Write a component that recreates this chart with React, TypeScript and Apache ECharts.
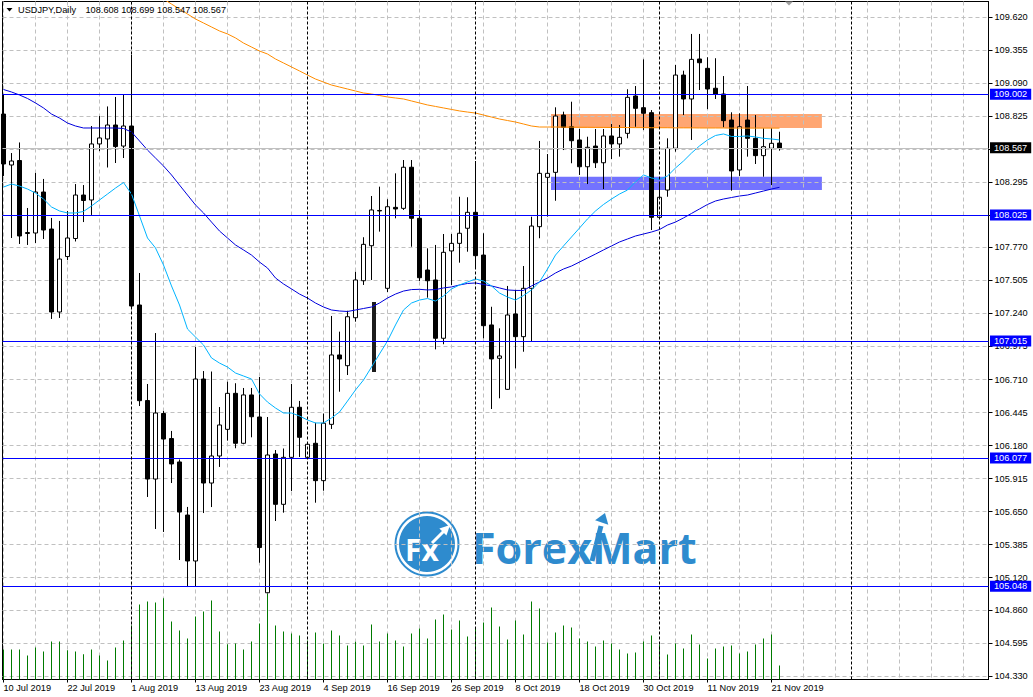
import React, { useEffect, useRef } from 'react';
import * as echarts from 'echarts';

// ---------- DATA ----------
const SYMBOL_TITLE = 'USDJPY,Daily';
const TITLE_OHLC = '108.608 108.699 108.547 108.567';

const DATE_BARS = [0, 8, 16, 24, 32, 40, 48, 56, 64, 72, 80, 88, 96];
const DATE_LABELS = ['10 Jul 2019', '22 Jul 2019', '1 Aug 2019', '13 Aug 2019', '23 Aug 2019', '4 Sep 2019', '16 Sep 2019', '26 Sep 2019', '8 Oct 2019', '18 Oct 2019', '30 Oct 2019', '11 Nov 2019', '21 Nov 2019'];
const GRID_BARS = [0, 4, 8, 12, 16, 20, 24, 28, 32, 36, 40, 44, 48, 52, 56, 60, 64, 68, 72, 76, 80, 84, 88, 92, 96, 100, 104, 108, 112, 116, 120];
const MONTH_START_BARS = [16, 38, 59, 82, 106];

const PRICE_TICKS = [104.330, 104.595, 104.860, 105.120, 105.385, 105.650, 105.915, 106.180, 106.445, 106.710, 106.975, 107.240, 107.505, 107.770, 108.030, 108.295, 108.560, 108.825, 109.090, 109.355, 109.620];

const OPEN = [108.841, 108.432, 108.468, 107.882, 107.886, 108.215, 107.918, 107.252, 107.697, 107.842, 108.191, 108.151, 108.601, 108.641, 108.753, 108.584, 108.745, 107.308, 106.541, 105.911, 106.437, 106.236, 106.048, 105.622, 105.253, 106.714, 105.879, 106.096, 106.310, 106.599, 106.198, 106.586, 106.409, 104.998, 106.112, 105.708, 106.085, 106.487, 106.085, 106.198, 105.898, 106.350, 106.907, 106.821, 107.206, 107.503, 107.784, 108.067, 107.442, 108.092, 108.084, 108.414, 108.004, 107.589, 107.509, 107.041, 107.742, 107.803, 107.924, 108.052, 107.709, 107.148, 106.880, 106.631, 107.236, 107.054, 107.442, 107.937, 108.333, 108.373, 108.833, 108.739, 108.633, 108.418, 108.584, 108.450, 108.665, 108.601, 108.686, 108.986, 108.892, 108.852, 108.012, 108.231, 108.566, 109.154, 108.962, 109.283, 109.208, 109.048, 109.002, 108.793, 108.392, 108.793, 108.646, 108.507, 108.566, 108.608];
const CLOSE = [108.440, 108.464, 107.862, 107.890, 108.215, 107.910, 107.252, 107.677, 107.846, 108.191, 108.147, 108.601, 108.649, 108.753, 108.580, 108.745, 107.300, 106.540, 105.911, 106.441, 106.232, 106.032, 105.646, 105.253, 106.714, 105.879, 106.096, 106.345, 106.599, 106.198, 106.586, 106.411, 105.361, 106.104, 105.708, 106.085, 106.487, 106.246, 106.190, 105.898, 106.359, 106.907, 106.875, 107.214, 107.509, 107.795, 108.071, 108.063, 108.097, 108.079, 108.414, 108.004, 107.527, 107.503, 107.041, 107.731, 107.803, 107.884, 108.052, 107.704, 107.142, 106.875, 106.899, 107.228, 107.054, 107.442, 107.942, 108.365, 108.365, 108.825, 108.735, 108.627, 108.418, 108.574, 108.450, 108.665, 108.601, 108.654, 108.975, 108.887, 108.847, 108.012, 108.173, 108.566, 109.154, 108.962, 109.280, 109.253, 109.042, 109.000, 108.788, 108.384, 108.739, 108.646, 108.507, 108.579, 108.606, 108.567];
const LOW = [108.344, 107.846, 107.798, 107.790, 107.806, 107.838, 107.196, 107.204, 107.669, 107.818, 107.974, 108.031, 108.544, 108.412, 108.448, 108.488, 107.292, 106.497, 105.767, 105.510, 105.486, 105.879, 105.261, 105.044, 105.052, 105.638, 105.686, 106.008, 106.219, 106.158, 106.190, 106.246, 105.239, 104.992, 105.574, 105.641, 105.815, 106.088, 106.080, 105.721, 105.817, 106.313, 106.612, 106.746, 107.174, 107.469, 107.509, 107.897, 107.412, 108.004, 108.071, 107.776, 107.501, 107.367, 106.952, 106.993, 107.469, 107.648, 107.736, 107.611, 107.041, 106.473, 106.559, 106.626, 106.800, 106.933, 107.013, 107.844, 108.017, 108.145, 108.552, 108.446, 108.352, 108.279, 108.408, 108.239, 108.480, 108.499, 108.646, 108.739, 108.713, 107.910, 108.007, 108.177, 108.539, 108.833, 108.633, 109.034, 108.881, 108.962, 108.735, 108.226, 108.344, 108.499, 108.440, 108.338, 108.271, 108.547];
const HIGH = [108.994, 108.528, 108.613, 108.087, 108.368, 108.320, 108.007, 107.983, 108.063, 108.279, 108.271, 108.745, 108.825, 108.902, 108.978, 108.994, 109.315, 107.565, 106.674, 107.083, 106.457, 106.297, 106.068, 105.687, 106.971, 106.778, 106.774, 106.489, 106.692, 106.680, 106.642, 106.642, 106.730, 106.409, 106.144, 106.156, 106.674, 106.538, 106.200, 106.363, 106.437, 107.220, 107.094, 107.262, 107.575, 107.852, 108.183, 108.258, 108.157, 108.365, 108.472, 108.472, 108.071, 107.763, 107.790, 107.878, 107.878, 108.177, 108.173, 108.464, 107.884, 107.294, 107.121, 107.461, 107.429, 107.621, 108.017, 108.625, 108.520, 108.895, 108.860, 108.940, 108.721, 108.659, 108.721, 108.721, 108.761, 108.753, 109.040, 109.066, 109.280, 108.873, 108.296, 108.646, 109.235, 109.189, 109.484, 109.484, 109.297, 109.289, 109.146, 108.855, 108.847, 109.066, 108.833, 108.727, 108.727, 108.699];

const VOLUME = [60000, 60000, 60000, 48000, 64000, 56000, 76000, 76000, 58600, 56000, 50600, 60000, 48000, 38000, 64000, 78000, 108000, 150000, 156000, 154000, 162600, 116000, 98000, 82000, 126000, 136000, 158000, 96000, 70600, 72000, 60000, 76000, 112000, 171400, 108000, 96000, 92000, 88000, 78000, 94000, 72000, 98000, 88000, 68000, 75400, 68000, 110000, 76000, 92000, 78000, 66000, 92000, 102000, 82000, 120000, 130000, 100000, 118000, 86000, 104000, 114000, 144000, 106000, 80000, 118000, 90000, 156000, 142000, 74000, 94000, 108000, 104000, 82000, 76000, 66000, 78000, 72000, 60000, 52000, 54000, 76000, 88000, 70000, 50000, 72000, 62000, 90000, 70000, 42000, 62000, 66000, 68000, 52000, 56000, 70000, 82000, 90000, 28000];

// light blue moving average
const MA_FAST = [108.255, 108.279, 108.263, 108.239, 108.207, 108.159, 108.095, 108.063, 108.047, 108.047, 108.059, 108.103, 108.151, 108.199, 108.247, 108.291, 108.199, 108.023, 107.846, 107.766, 107.629, 107.461, 107.308, 107.115, 107.051, 106.987, 106.883, 106.842, 106.810, 106.762, 106.738, 106.714, 106.594, 106.529, 106.481, 106.441, 106.441, 106.417, 106.385, 106.361, 106.361, 106.401, 106.449, 106.537, 106.626, 106.706, 106.810, 106.915, 107.019, 107.148, 107.268, 107.324, 107.348, 107.360, 107.340, 107.380, 107.437, 107.469, 107.493, 107.517, 107.501, 107.461, 107.404, 107.372, 107.348, 107.384, 107.429, 107.493, 107.597, 107.709, 107.782, 107.854, 107.926, 107.999, 108.063, 108.115, 108.159, 108.199, 108.231, 108.296, 108.352, 108.328, 108.316, 108.344, 108.408, 108.464, 108.528, 108.585, 108.633, 108.669, 108.681, 108.661, 108.661, 108.665, 108.657, 108.646, 108.641, 108.633];
// dark blue moving average
const MA_MID = [109.038, 109.018, 108.994, 108.966, 108.930, 108.890, 108.841, 108.809, 108.769, 108.745, 108.729, 108.729, 108.729, 108.729, 108.729, 108.725, 108.697, 108.625, 108.552, 108.488, 108.424, 108.352, 108.271, 108.191, 108.111, 108.047, 107.974, 107.902, 107.846, 107.790, 107.750, 107.709, 107.653, 107.605, 107.525, 107.477, 107.437, 107.396, 107.364, 107.324, 107.292, 107.268, 107.260, 107.256, 107.268, 107.280, 107.292, 107.324, 107.364, 107.396, 107.420, 107.432, 107.434, 107.429, 107.432, 107.445, 107.453, 107.469, 107.481, 107.485, 107.473, 107.461, 107.445, 107.429, 107.425, 107.425, 107.461, 107.493, 107.525, 107.565, 107.597, 107.621, 107.653, 107.685, 107.717, 107.750, 107.782, 107.814, 107.838, 107.862, 107.878, 107.894, 107.914, 107.950, 107.974, 108.007, 108.043, 108.079, 108.115, 108.143, 108.159, 108.171, 108.183, 108.191, 108.207, 108.223, 108.239, 108.253];
// orange moving average (above the visible range for the first bars)
const MA_SLOW = [null, null, null, null, null, null, null, null, null, null, null, null, null, null, null, null, null, null, null, 109.810, 109.765, 109.724, 109.684, 109.644, 109.604, 109.572, 109.540, 109.508, 109.484, 109.452, 109.411, 109.379, 109.347, 109.323, 109.283, 109.251, 109.219, 109.187, 109.154, 109.122, 109.098, 109.074, 109.058, 109.042, 109.026, 109.010, 109.002, 108.990, 108.978, 108.970, 108.962, 108.946, 108.930, 108.914, 108.902, 108.890, 108.878, 108.866, 108.857, 108.849, 108.833, 108.817, 108.801, 108.789, 108.777, 108.761, 108.745, 108.737, 108.737, 108.737, 108.736, 108.736, 108.735, 108.735, 108.734, 108.734, 108.733, 108.733, 108.733, 108.732, 108.732, 108.731, 108.731, 108.731, 108.730, 108.730, 108.730, 108.729, 108.729, 108.729, 108.729, 108.728, 108.728, 108.728, 108.728, 108.728, 108.728, 108.728];

const LEVELS = [109.002, 108.025, 107.015, 106.077, 105.048];
const BID = 108.567;
const ZONE_BARS = [68.44, 102.3];
const SUPPLY_ZONE = [108.729, 108.841];
const DEMAND_ZONE = [108.231, 108.338];
const STRAY_BAR = { bar: 46.22, from: 106.770, to: 107.332 };

// ---------- LAYOUT ----------
const GRID_LEFT = 2.5;
const GRID_TOP = 1.5;
const GRID_W = 986;
const GRID_H = 678;
const X_MIN = -0.125;
const X_MAX = 123.125;
const Y_MIN = 104.3017;
const Y_MAX = 109.7445;
const VOL_MAX = 1356000;
const FONT = 'Liberation Sans';
const FS = 9.2;
const LOGO_BLUE = '#2E8BCE';

function buildOption(): any {
  const candles = OPEN.map((o, i) => [i, o, CLOSE[i], LOW[i], HIGH[i]]);
  const vols = VOLUME.map((v, i) => [i, v]);
  const toLine = (arr: (number | null)[]) => arr.map((v, i) => [i, v]);

  const levelItems: any[] = LEVELS.map((v) => ({
    name: v.toFixed(3),
    yAxis: v,
    lineStyle: { color: '#0000FF', type: 'solid', width: 1 },
    label: { show: true, position: 'end', formatter: '{b}', color: '#fff', backgroundColor: '#0000FF', padding: [1, 4, 0, 4], lineHeight: 10, fontSize: FS, fontFamily: FONT, distance: 1.5 },
  }));
  levelItems.push({
    name: BID.toFixed(3),
    yAxis: BID,
    lineStyle: { color: '#C0C0C0', type: 'solid', width: 1 },
    label: { show: true, position: 'end', formatter: '{b}', color: '#fff', backgroundColor: '#000', padding: [1, 4, 0, 4], lineHeight: 10, fontSize: FS, fontFamily: FONT, distance: 1.5 },
  });
  MONTH_START_BARS.forEach((b) => {
    levelItems.push({ xAxis: b, lineStyle: { color: '#000', type: [3, 2], width: 1 }, label: { show: false } });
  });

  const arrowTip = (x: number, y: number, dx: number, dy: number, w: number) => {
    const len = Math.hypot(dx, dy);
    const ux = dx / len, uy = dy / len;
    const bx = x - ux * 10, by = y - uy * 10;
    return [[x, y], [bx - uy * w, by + ux * w], [bx + uy * w, by - ux * w]];
  };

  return {
    animation: false,
    backgroundColor: '#fff',
    textStyle: { fontFamily: FONT },
    grid: { left: GRID_LEFT, top: GRID_TOP, width: GRID_W, height: GRID_H, show: true, borderColor: '#000', borderWidth: 1, backgroundColor: 'transparent', z: 0 },
    xAxis: [
      {
        type: 'value', min: X_MIN, max: X_MAX, z: 2,
        axisLine: { show: true, onZero: false, lineStyle: { color: '#000' } },
        axisTick: { show: false, customValues: GRID_BARS },
        axisLabel: { show: false },
        splitLine: { show: true, lineStyle: { color: '#C0C0C0', type: [4, 3], width: 1 } },
      },
      {
        type: 'value', min: X_MIN, max: X_MAX, position: 'bottom', z: 2,
        axisLine: { show: false, onZero: false },
        axisTick: { show: true, customValues: DATE_BARS, length: 3, lineStyle: { color: '#000' } },
        axisLabel: {
          show: true, customValues: DATE_BARS, align: 'left', margin: 4, fontSize: FS, fontFamily: FONT, color: '#000',
          formatter: (v: number) => { const i = DATE_BARS.indexOf(Math.round(v)); return i >= 0 ? DATE_LABELS[i] : ''; },
        },
        splitLine: { show: false },
      },
    ],
    yAxis: [
      {
        type: 'value', position: 'right', min: Y_MIN, max: Y_MAX, z: 2,
        axisLine: { show: true, onZero: false, lineStyle: { color: '#000' } },
        axisTick: { show: true, customValues: PRICE_TICKS, length: 4, lineStyle: { color: '#000' } },
        axisLabel: { show: true, customValues: PRICE_TICKS, margin: 6, fontSize: FS, fontFamily: FONT, color: '#000', formatter: (v: number) => v.toFixed(3) },
        splitLine: { show: true, lineStyle: { color: '#C0C0C0', type: [4, 3], width: 1 } },
      },
      { type: 'value', min: 0, max: VOL_MAX, show: false, splitLine: { show: false }, axisLine: { onZero: false } },
    ],
    series: [
      {
        type: 'line', name: 'zones', data: [], xAxisIndex: 0, yAxisIndex: 0, silent: true,
        markArea: {
          silent: true, z: 1,
          data: [
            [{ xAxis: ZONE_BARS[0], yAxis: SUPPLY_ZONE[1], itemStyle: { color: '#FFA672', opacity: 1 } }, { xAxis: ZONE_BARS[1], yAxis: SUPPLY_ZONE[0] }],
            [{ xAxis: ZONE_BARS[0], yAxis: DEMAND_ZONE[1], itemStyle: { color: '#7373FF', opacity: 1 } }, { xAxis: ZONE_BARS[1], yAxis: DEMAND_ZONE[0] }],
          ],
        },
      },
      {
        type: 'bar', name: 'volume', data: vols, xAxisIndex: 0, yAxisIndex: 1, barWidth: 1, z: 3, silent: true,
        itemStyle: { color: '#007A00' },
      },
      {
        type: 'candlestick', name: 'USDJPY', data: candles, xAxisIndex: 0, yAxisIndex: 0, barWidth: 4, z: 3, silent: true,
        itemStyle: { color: '#fff', color0: '#000', borderColor: '#000', borderColor0: '#000', borderWidth: 1 },
        markLine: {
          silent: true, symbol: ['none', 'none'], z: 4,
          data: [[{ coord: [STRAY_BAR.bar, STRAY_BAR.to] }, { coord: [STRAY_BAR.bar, STRAY_BAR.from] }]],
          lineStyle: { color: '#1c1c1c', width: 4, type: 'solid' }, label: { show: false },
        },
      },
      { type: 'line', name: 'MA slow', data: toLine(MA_SLOW), showSymbol: false, symbol: 'none', z: 4, silent: true, lineStyle: { color: '#FF8C00', width: 1 } },
      { type: 'line', name: 'MA mid', data: toLine(MA_MID), showSymbol: false, symbol: 'none', z: 4, silent: true, lineStyle: { color: '#0000DD', width: 1 } },
      { type: 'line', name: 'MA fast', data: toLine(MA_FAST), showSymbol: false, symbol: 'none', z: 4, silent: true, lineStyle: { color: '#00B4FF', width: 1 } },
      {
        type: 'line', name: 'levels', data: [], silent: true,
        markLine: { silent: true, symbol: ['none', 'none'], z: 5, data: levelItems },
      },
    ],
    graphic: [
      // watermark logo
      { type: 'circle', z: 2, silent: true, shape: { cx: 427, cy: 544, r: 31.5 }, style: { fill: 'none', stroke: LOGO_BLUE, lineWidth: 2 } },
      { type: 'circle', z: 2, silent: true, shape: { cx: 427, cy: 544, r: 28 }, style: { fill: LOGO_BLUE } },
      { type: 'text', z: 2, silent: true, style: { x: 405, y: 549, text: 'Fx', fill: '#fff', fontSize: 30, fontWeight: 'bold', fontFamily: 'Open Sans', verticalAlign: 'middle', align: 'left' } },
      { type: 'polyline', z: 2, silent: true, shape: { points: [[432, 543], [445, 530]] }, style: { stroke: '#fff', lineWidth: 3 } },
      { type: 'polygon', z: 2, silent: true, shape: { points: arrowTip(450, 525, 1, -1, 5) }, style: { fill: '#fff' } },
      { type: 'text', z: 2, silent: true, style: { x: 472, y: 547, text: 'ForexMart', fill: LOGO_BLUE, fontSize: 43, fontWeight: 'bold', fontFamily: 'Open Sans', verticalAlign: 'middle', align: 'left' } },
      { type: 'polyline', z: 2, silent: true, shape: { points: [[592, 561], [601, 526]] }, style: { stroke: LOGO_BLUE, lineWidth: 5 } },
      { type: 'polygon', z: 2, silent: true, shape: { points: arrowTip(605, 513, 0.35, -1, 7) }, style: { fill: LOGO_BLUE } },
      // title
      { type: 'polygon', z: 10, silent: true, shape: { points: [[6.5, 8], [12.5, 8], [9.5, 11.5]] }, style: { fill: '#000' } },
      { type: 'text', z: 10, silent: true, style: { x: 18, y: 10, text: SYMBOL_TITLE, fill: '#000', fontSize: FS, fontFamily: FONT, verticalAlign: 'middle', align: 'left' } },
      { type: 'text', z: 10, silent: true, style: { x: 85.5, y: 10, text: TITLE_OHLC, fill: '#000', fontSize: FS, fontFamily: FONT, verticalAlign: 'middle', align: 'left' } },
      // chart shift marker
      { type: 'polygon', z: 10, silent: true, shape: { points: [[785, 1.5], [793, 1.5], [789, 5.5]] }, style: { fill: '#A0A0A0' } },
    ],
  };
}

export default function App() {
  const ref = useRef<HTMLDivElement>(null);
  useEffect(() => {
    document.body.style.margin = '0';
    const el = ref.current;
    if (!el) return;
    const chart = echarts.init(el, null, { renderer: 'svg' });
    chart.setOption(buildOption());
    return () => { chart.dispose(); };
  }, []);
  return <div ref={ref} style={{ width: 1033, height: 697, background: '#fff' }} />;
}
